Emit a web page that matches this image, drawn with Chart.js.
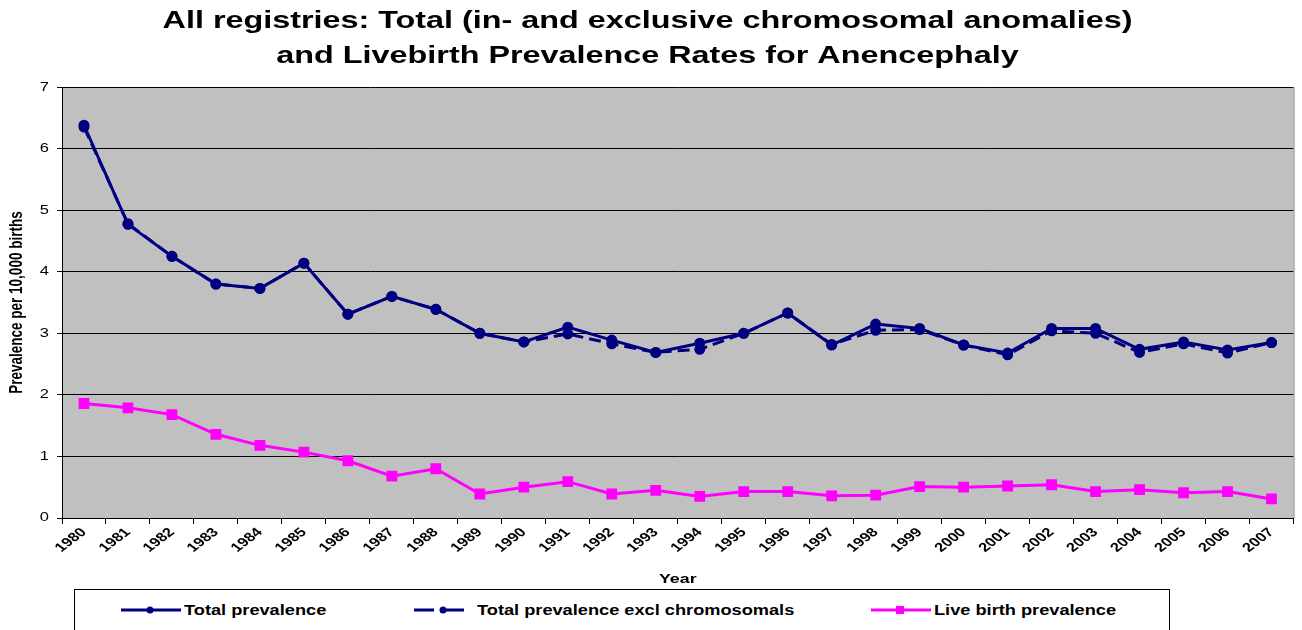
<!DOCTYPE html>
<html>
<head>
<meta charset="utf-8">
<script src="https://cdn.jsdelivr.net/npm/chart.js"></script>
<style>
  body { margin: 0; background: #fff; font-family: "Liberation Sans", Arial, sans-serif; }
  #wrap { position: relative; width: 1302px; height: 630px; overflow: hidden; }
  #legend {
    position: absolute; left: 74px; top: 589px; width: 1096px; height: 60px;
    border: 1px solid #000; box-sizing: border-box; background: #fff;
  }
  .item { position: absolute; top: 12px; height: 16px; white-space: nowrap; }
  .item svg { position: absolute; left: 0; top: 2px; }
  .item span {
    position: absolute; left: 63px; top: 0; font-weight: bold; font-size: 14px; color: #000;
    transform: scaleX(1.3); transform-origin: 0 50%;
  }
</style>
</head>
<body>
<div id="wrap">
  <canvas id="myChart" width="1302" height="630"></canvas>
  <div id="legend"></div>
</div>
<script>
    // Chart data
    const years = ['1980', '1981', '1982', '1983', '1984', '1985', '1986', '1987', '1988', '1989',
        '1990', '1991', '1992', '1993', '1994', '1995', '1996', '1997', '1998', '1999',
        '2000', '2001', '2002', '2003', '2004', '2005', '2006', '2007'];

    const totalPrevalence = [6.38, 4.77, 4.25, 3.80, 3.73, 4.14, 3.31, 3.60, 3.39, 3.00,
        2.86, 3.10, 2.89, 2.69, 2.84, 3.00, 3.33, 2.81, 3.15, 3.08,
        2.81, 2.68, 3.08, 3.08, 2.74, 2.86, 2.73, 2.85];

    const totalExclChromosomals = [6.35, 4.78, 4.25, 3.80, 3.73, 4.14, 3.31, 3.60, 3.39, 3.00,
        2.86, 2.99, 2.83, 2.69, 2.74, 3.00, 3.33, 2.82, 3.05, 3.06,
        2.81, 2.65, 3.04, 3.00, 2.69, 2.83, 2.68, 2.85];

    const liveBirthPrevalence = [1.86, 1.79, 1.68, 1.36, 1.18, 1.07, 0.93, 0.68, 0.80, 0.39,
        0.50, 0.59, 0.39, 0.45, 0.35, 0.43, 0.43, 0.36, 0.37, 0.51,
        0.50, 0.52, 0.54, 0.43, 0.46, 0.41, 0.43, 0.31];

    const yTicks = [0, 1, 2, 3, 4, 5, 6, 7];

    const seriesNames = ['Total prevalence', 'Total prevalence excl chromosomals', 'Live birth prevalence'];

    const navy = '#000080';
    const magenta = '#FF00FF';
    const font = '"Liberation Sans", Arial, sans-serif';
    const STRETCH = 1.32; // the original text is drawn wide

    // widen every canvas text horizontally around its anchor point
    const stretchText = {
        id: 'stretchText',
        beforeDraw(chart) {
            const c = chart.ctx;
            if (c._stretched) return;
            const orig = c.fillText.bind(c);
            c.fillText = function (text, x, y, maxWidth) {
                const m = c.getTransform();
                const px = m.a * x + m.c * y + m.e;
                const py = m.b * x + m.d * y + m.f;
                c.save();
                c.setTransform(1, 0, 0, 1, 0, 0);
                c.translate(px, py);
                c.scale(STRETCH, 1);
                c.translate(-px, -py);
                c.transform(m.a, m.b, m.c, m.d, m.e, m.f);
                if (maxWidth === undefined) orig(text, x, y);
                else orig(text, x, y, maxWidth);
                c.restore();
            };
            c._stretched = true;
        }
    };

    // grey plot area + right border
    const plotArea = {
        id: 'plotArea',
        beforeDraw(chart) {
            const a = chart.chartArea;
            const c = chart.ctx;
            c.save();
            c.fillStyle = '#C0C0C0';
            c.fillRect(a.left, a.top, a.right - a.left, a.bottom - a.top);
            c.restore();
        },
        beforeDatasetsDraw(chart) {
            const a = chart.chartArea;
            const c = chart.ctx;
            c.save();
            c.strokeStyle = '#808080';
            c.lineWidth = 1;
            c.beginPath();
            c.moveTo(a.right + 0.5, a.top);
            c.lineTo(a.right + 0.5, a.bottom);
            c.stroke();
            c.restore();
        }
    };

    const ctx = document.getElementById('myChart').getContext('2d');

    const myChart = new Chart(ctx, {
        type: 'line',
        data: {
            labels: years,
            datasets: [{
                label: seriesNames[0],
                data: totalPrevalence,
                borderColor: navy,
                backgroundColor: navy,
                borderWidth: 3,
                pointStyle: 'circle',
                pointRadius: 4,
                fill: false
            }, {
                label: seriesNames[1],
                data: totalExclChromosomals,
                borderColor: navy,
                backgroundColor: navy,
                borderWidth: 3,
                borderDash: [12, 6],
                pointStyle: 'circle',
                pointRadius: 4,
                fill: false
            }, {
                label: seriesNames[2],
                data: liveBirthPrevalence,
                borderColor: magenta,
                backgroundColor: magenta,
                borderWidth: 3,
                pointStyle: 'rect',
                pointRadius: 5.5,
                fill: false
            }]
        },
        options: {
            responsive: false,
            animation: false,
            layout: { padding: { left: 0, right: 7, top: 0, bottom: 40 } },
            plugins: {
                legend: { display: false },
                tooltip: { enabled: false },
                title: {
                    display: true,
                    text: ['All registries: Total (in- and exclusive chromosomal anomalies)',
                        'and Livebirth Prevalence Rates for Anencephaly'],
                    color: '#000',
                    font: { family: font, size: 24.5, weight: 'bold', lineHeight: 1.43 },
                    padding: { top: 4, bottom: 13 }
                }
            },
            scales: {
                x: {
                    offset: true,
                    grid: {
                        offset: true,
                        drawOnChartArea: false,
                        color: '#000',
                        tickLength: 6
                    },
                    border: { color: '#000', width: 1 },
                    ticks: {
                        autoSkip: false,
                        maxRotation: 45,
                        minRotation: 45,
                        color: '#000',
                        padding: 1,
                        font: { family: font, size: 12.5, weight: 'bold' }
                    },
                    title: {
                        display: true,
                        text: 'Year',
                        color: '#000',
                        font: { family: font, size: 13.5, weight: 'bold' },
                        padding: { top: 0, bottom: 3 }
                    },
                    afterFit(scale) {
                        scale.height = 72;
                        scale.paddingLeft = 0;
                        scale.paddingRight = 0;
                    }
                },
                y: {
                    min: 0,
                    max: 7,
                    afterBuildTicks(scale) {
                        scale.ticks = yTicks.map(v => ({ value: v }));
                    },
                    grid: {
                        color: '#000',
                        lineWidth: 1,
                        tickLength: 5
                    },
                    border: { color: '#000', width: 1 },
                    ticks: {
                        color: '#000',
                        padding: 8,
                        font: { family: font, size: 12.5 }
                    },
                    title: {
                        display: true,
                        text: 'Prevalence per 10,000 births',
                        color: '#000',
                        font: { family: font, size: 13.5, weight: 'bold' },
                        padding: { top: 9, bottom: 0 }
                    },
                    afterFit(scale) {
                        scale.width = 62;
                    }
                }
            }
        },
        plugins: [stretchText, plotArea]
    });

    // legend below the chart, built from the series names
    const legend = document.getElementById('legend');
    const legendX = [46, 339, 796];
    const samples = [
        '<svg width="60" height="12"><line x1="0" y1="6" x2="60" y2="6" stroke="' + navy + '" stroke-width="3"/><circle cx="29" cy="6" r="3.5" fill="' + navy + '"/></svg>',
        '<svg width="60" height="12"><line x1="0" y1="6" x2="60" y2="6" stroke="' + navy + '" stroke-width="3" stroke-dasharray="20 10"/><circle cx="29" cy="6" r="3.5" fill="' + navy + '"/></svg>',
        '<svg width="60" height="12"><line x1="0" y1="6" x2="60" y2="6" stroke="' + magenta + '" stroke-width="3"/><rect x="25" y="2" width="8" height="8" fill="' + magenta + '"/></svg>'
    ];
    seriesNames.forEach((name, i) => {
        const el = document.createElement('div');
        el.className = 'item';
        el.style.left = legendX[i] + 'px';
        el.innerHTML = samples[i];
        const label = document.createElement('span');
        label.textContent = name;
        el.appendChild(label);
        legend.appendChild(el);
    });
</script>
</body>
</html>
